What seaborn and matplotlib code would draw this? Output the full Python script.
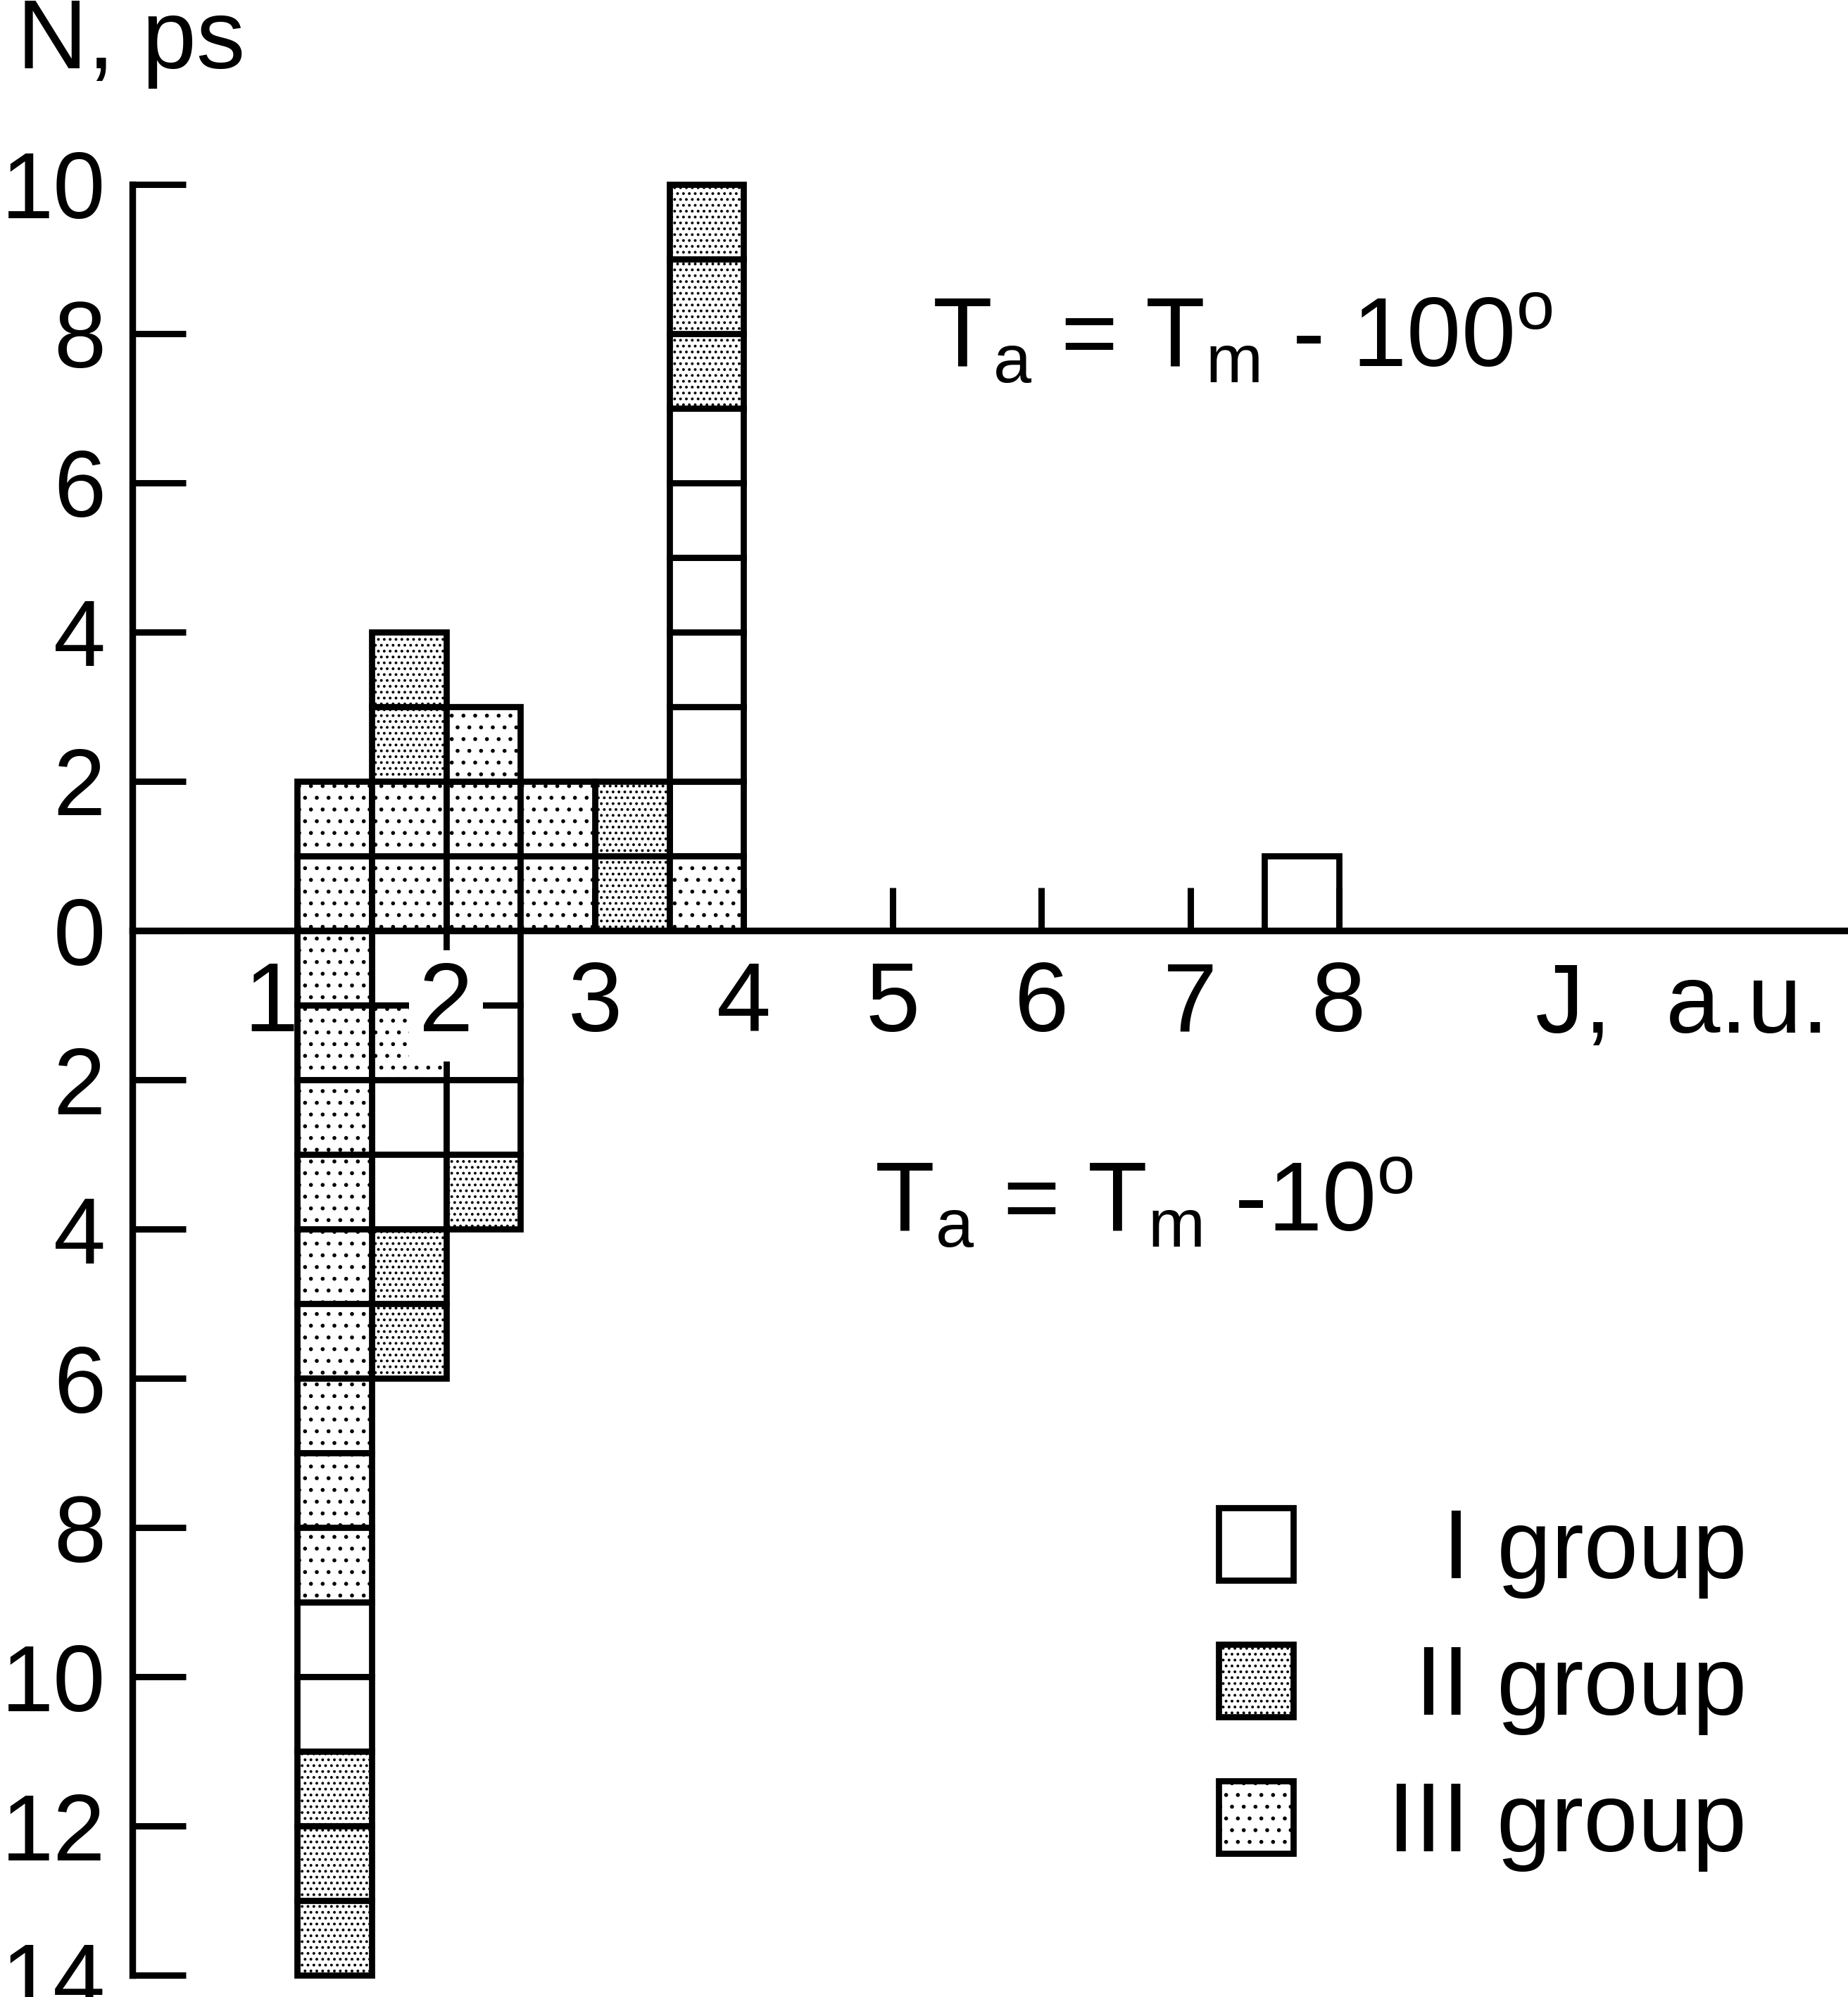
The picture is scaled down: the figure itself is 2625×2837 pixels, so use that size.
import matplotlib
matplotlib.use("Agg")
import matplotlib.pyplot as plt
import matplotlib.transforms as mtransforms
from matplotlib.patches import Patch
import pandas as pd
import seaborn as sns

# ---------------- data ----------------
# left edge of each 0.5-wide J bin
bin_left = [1.0, 1.5, 2.0, 2.5, 3.0, 3.5, 7.5]
# groups of the unit cells, listed outward from the axis
above_groups = [  # T_a = T_m - 100°
    ["III", "III"],
    ["III", "III", "II", "II"],
    ["III", "III", "III"],
    ["III", "III"],
    ["II", "II"],
    ["III", "I", "I", "I", "I", "I", "I", "II", "II", "II"],
    ["I"],
]
below_groups = [  # T_a = T_m - 10°
    ["III", "III", "III", "III", "III", "III", "III", "III", "III",
     "I", "I", "II", "II", "II"],
    ["I", "III", "I", "I", "II", "II"],
    ["I", "I", "I", "II"],
    [],
    [],
    [],
    [],
]
groups = ["I", "II", "III"]
group_labels = ["I group", "II group", "III group"]
group_hatch = {"I": "", "II": "..", "III": "."}

x_ticks = [1, 2, 3, 4, 5, 6, 7, 8]
x_tick_labels = ["1", "2", "3", "4", "5", "6", "7", "8"]
y_ticks = [10, 8, 6, 4, 2, 0, -2, -4, -6, -8, -10, -12, -14]
y_tick_labels = ["10", "8", "6", "4", "2", "0", "2", "4", "6", "8",
                 "10", "12", "14"]
x_label = "J,  a.u."
y_label = "N, ps"
note_top = r"T$_\mathregular{a}$ = T$_\mathregular{m}$ - 100$^\mathregular{o}$"
note_bottom = r"T$_\mathregular{a}$ = T$_\mathregular{m}$ -10$^\mathregular{o}$"

# ---------------- style ----------------
sns.set_theme(style="white")
plt.rcParams["font.family"] = ["Liberation Sans", "DejaVu Sans"]
plt.rcParams["mathtext.fontset"] = "custom"
plt.rcParams["mathtext.rm"] = "Liberation Sans"
plt.rcParams["hatch.color"] = "black"
plt.rcParams["hatch.linewidth"] = 1.6
for key in ["text.color", "axes.labelcolor", "xtick.color", "ytick.color",
            "axes.edgecolor"]:
    plt.rcParams[key] = "black"
plt.rcParams["axes.axisbelow"] = False

LW = 6.3
FS = 100
DPI = 100
W, H = 2625, 2837

fig = plt.figure(figsize=(W / DPI, H / DPI), dpi=DPI)
fig.patch.set_facecolor("white")
left_px = 187.5
ax = fig.add_axes([left_px / W, 0, 1 - left_px / W, 1])
ax.set_facecolor("white")
ax.set_axisbelow(False)

# ---------------- cells ----------------
rows = []
for x, ups, downs in zip(bin_left, above_groups, below_groups):
    for k, g in enumerate(ups):
        rows.append(dict(x=x, bottom=k, height=1, group=g))
    for k, g in enumerate(downs):
        rows.append(dict(x=x, bottom=-k, height=-1, group=g))
cells = pd.DataFrame(rows)

for g in groups:
    d = cells[cells["group"] == g]
    ax.bar(d["x"], d["height"], bottom=d["bottom"], width=0.5, align="edge",
           facecolor="white", edgecolor="black", linewidth=LW,
           hatch=group_hatch[g], zorder=2)

# ---------------- axes ----------------
ax.set_xlim(-0.11, 11.42)
ax.set_ylim(-14.29, 12.47)
for s in ["top", "right"]:
    ax.spines[s].set_visible(False)
ax.spines["bottom"].set_position(("data", 0))
ax.spines["left"].set_bounds(-14, 10)
for s in ["bottom", "left"]:
    ax.spines[s].set_linewidth(6.8)
    ax.spines[s].set_color("black")

ax.set_xticks(x_ticks, x_tick_labels)
ax.set_yticks(y_ticks, y_tick_labels)
ax.tick_params(axis="x", bottom=True, direction="in", length=44, width=6.5,
               pad=30, labelsize=FS, colors="black")
ax.tick_params(axis="y", left=True, direction="in", length=55, width=6.5,
               pad=27, labelsize=96, colors="black")

xl = ax.get_xticklabels()
xl[0].set_transform(xl[0].get_transform() +
                    mtransforms.ScaledTranslation(-37 / DPI, 0, fig.dpi_scale_trans))
xl[1].set_bbox(dict(facecolor="white", edgecolor="none", boxstyle="square,pad=0.1"))

ax.set_xlabel(x_label, ha="left", va="baseline", fontsize=FS, color="black")
ax.xaxis.set_label_coords((9.319 + 0.11) / 11.53, (-1.368 + 14.29) / 26.76)
ax.set_ylabel(y_label, rotation=0, ha="left", va="baseline", fontsize=FS,
              color="black")
ax.yaxis.set_label_coords((24 - left_px) / (W - left_px), 1 - 97 / H)

ax.text(5.268, 7.55, note_top, fontsize=FS, ha="left", va="baseline",
        color="black")
ax.text(4.877, -4.03, note_bottom, fontsize=FS, ha="left", va="baseline",
        color="black")

# ---------------- legend ----------------
handles = [Patch(facecolor="white", edgecolor="black", hatch=group_hatch[g],
                 linewidth=LW) for g in groups]
leg = ax.legend(handles, group_labels, loc="upper left",
                bbox_to_anchor=(1731 / W, 1 - 2141 / H),
                bbox_transform=fig.transFigure, frameon=False, fontsize=FS,
                handlelength=0.76, handleheight=0.76, handletextpad=0.97,
                labelspacing=0.46, borderpad=0, borderaxespad=0)
for t in leg.get_texts():
    t.set_color("black")

fig.canvas.draw()
renderer = fig.canvas.get_renderer()
texts = leg.get_texts()
widths = [t.get_window_extent(renderer).width for t in texts]
for t, w in zip(texts, widths):
    t.set_transform(t.get_transform() +
                    mtransforms.Affine2D().translate(max(widths) - w, 0))

fig.savefig("out.png", dpi=DPI, facecolor="white")
